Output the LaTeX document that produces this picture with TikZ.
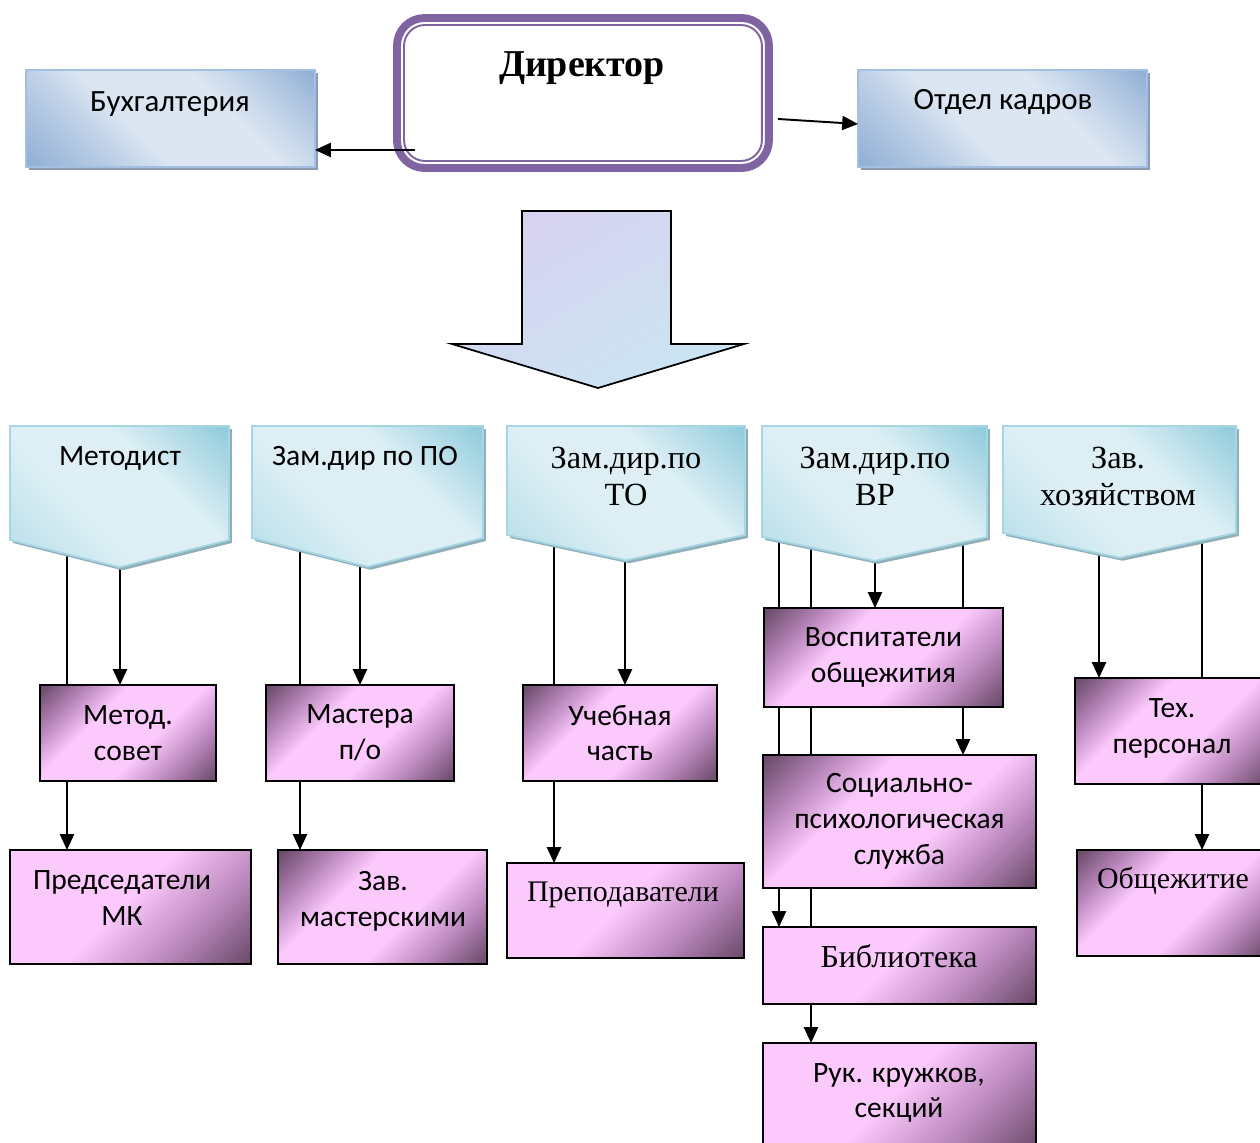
\documentclass[tikz,border=0pt]{standalone}
\usepackage{fontspec}
\setmainfont{Carlito}
\newfontfamily\tnr{Liberation Serif}
\usetikzlibrary{shapes.symbols,shadows,arrows.meta,backgrounds,calc}

\definecolor{bdark}{HTML}{93B1D6}
\definecolor{bmid}{HTML}{B8CCE5}
\definecolor{blight}{HTML}{DCE6F2}
\definecolor{bborder}{HTML}{A3C0E2}
\definecolor{bshadow}{HTML}{8D9BB0}
\definecolor{cdark}{HTML}{93CDDD}
\definecolor{cmid}{HTML}{B7DEE9}
\definecolor{clight}{HTML}{DDEFF5}
\definecolor{cborder}{HTML}{A6D6E3}
\definecolor{cshadow}{HTML}{8FAFB9}
\definecolor{pdark}{HTML}{6E4E6E}
\definecolor{pmid}{HTML}{B785B9}
\definecolor{plight}{HTML}{FBC9FC}
\definecolor{dirc}{HTML}{8064A2}
\definecolor{arwA}{HTML}{D8D2F0}
\definecolor{arwB}{HTML}{D2DCF3}
\definecolor{arwC}{HTML}{CAE5F2}

\pgfdeclarehorizontalshading{bluesh}{100bp}{color(0bp)=(bdark); color(16bp)=(bdark); color(30bp)=(bmid); color(42bp)=(blight); color(62bp)=(blight); color(74bp)=(bmid); color(84bp)=(bdark); color(100bp)=(bdark)}
\pgfdeclarehorizontalshading{cyansh}{100bp}{color(0bp)=(cmid); color(16bp)=(cmid); color(40bp)=(clight); color(62bp)=(clight); color(84bp)=(cdark); color(100bp)=(cdark)}
\pgfdeclarehorizontalshading{purpA}{100bp}{color(0bp)=(pdark); color(16bp)=(pdark); color(27bp)=(pmid); color(38bp)=(plight); color(58bp)=(plight); color(72bp)=(pmid); color(84bp)=(pdark); color(100bp)=(pdark)}
\pgfdeclarehorizontalshading{purpB}{100bp}{color(0bp)=(plight); color(48bp)=(plight); color(68bp)=(pmid); color(84bp)=(pdark); color(100bp)=(pdark)}

\tikzset{
  lab/.style={font=\fontsize{16.8}{20.4}\selectfont, align=center, inner sep=0},
  labtop/.style={font=\fontsize{17.6}{21}\selectfont, align=center, inner sep=0},
  labtnr/.style={font=\fontsize{18.4}{21}\selectfont\tnr, align=center, inner sep=0},
  labtnr2/.style={font=\fontsize{17}{20}\selectfont\tnr, align=center, inner sep=0},
  bluebox/.style={draw=bborder, line width=0.8pt, shade, shading=bluesh, shading angle=45,
    inner sep=0, outer sep=0, anchor=north west,
    drop shadow={fill=bshadow, opacity=1, shadow xshift=0.06cm, shadow yshift=-0.06cm}},
  dirbox/.style={draw=dirc, line width=4.5pt, rounded corners=0.55cm, fill=white,
    inner sep=0, outer sep=0, anchor=north west},
  penta/.style={signal, signal to=south, signal pointer angle=#1, draw=cborder, line width=1pt,
    shade, shading=cyansh, shading angle=45, inner sep=0, outer sep=0, anchor=north,
    drop shadow={fill=cshadow, opacity=1, shadow xshift=0.06cm, shadow yshift=-0.06cm}},
  penta/.default=152,
  pbox/.style={draw=black, line width=1pt, shade, shading=purpA, shading angle=-45,
    inner sep=2pt, outer sep=0, anchor=north west, lab},
  pbox2/.style={pbox, shading=purpB},
  bigarrow/.style={draw=black, line width=1pt, left color=arwA, middle color=arwB, right color=arwC, shading angle=30},
  arr/.style={-{Triangle[length=9pt,width=8pt]}, line width=1.1pt}
}

\begin{document}
\begin{tikzpicture}[x=0.02cm, y=-0.02cm]
\useasboundingbox (0,0) rectangle (1260,1142);
\clip (0,0) rectangle (1260,1142);

% top row
\node[bluebox, minimum width=5.78cm, minimum height=1.94cm] (buh) at (26,70) {};
\node[labtop, anchor=base] (buhT) at (170,112) {Бухгалтерия};
\node[bluebox, minimum width=5.78cm, minimum height=1.94cm] (kadr) at (858,70) {};
\node[labtop, anchor=base] (kadrT) at (1003,110) {Отдел кадров};

\node[dirbox, minimum width=7.44cm, minimum height=3cm] (dir) at (397,18) {};
\draw[dirc, line width=1.1pt, rounded corners=0.42cm] ([shift={(7,7)}]dir.north west) rectangle ([shift={(-7,-7)}]dir.south east);
\node[lab, font=\fontsize{21.6}{26}\selectfont\tnr\bfseries, anchor=base] (dirT) at (582,77) {Директор};

\draw[arr] ($(dir.south west)+(18,-18)$) coordinate (d1) -- (buh.east |- d1);
\draw[arr] ($(dir.east)+(9,26)$) -- ($(kadr.west)+(0,5.5)$);

% big arrow
\draw[bigarrow] (522,211) -- (671,211) -- (671,344) -- (744,344) -- (598,388) -- (452,344) -- (522,344) -- cycle;

% deputies
\node[penta, minimum width=4.38cm, minimum height=2.28cm] (met) at (119.5,426) {};
\node[penta, minimum width=4.62cm, minimum height=2.24cm] (zpo) at (367.5,426) {};
\node[penta=156, minimum width=4.76cm, minimum height=2.18cm] (zto) at (626,426) {};
\node[penta=156, minimum width=4.5cm, minimum height=2.22cm] (zvr) at (874.5,426) {};
\node[penta=156, minimum width=4.66cm, minimum height=2.14cm] (zxoz) at (1119.5,426) {};

\node[lab, anchor=base] (metT) at (120,465) {Методист};
\node[lab, anchor=base] (zpoT) at (365,465) {Зам.дир по ПО};
\node[labtnr] (ztoT) at (626,476) {Зам.дир.по\\ТО};
\node[labtnr] (zvrT) at (875,476) {Зам.дир.по\\ВР};
\node[labtnr] (zxozT) at (1118,476) {Зав.\\хозяйством};

% units
\node[pbox, minimum width=3.52cm, minimum height=1.92cm] (metsov) at (40,685) {Метод.\\совет};
\node[pbox2, minimum width=4.82cm, minimum height=2.28cm] (pred) at (10,850) {};
\node[lab] (predT) at (122,898) {Председатели\\МК};
\node[pbox, minimum width=3.76cm, minimum height=1.92cm] (mast) at (266,685) {Мастера\\п/о};
\node[pbox, minimum width=4.18cm, minimum height=2.28cm] (zavm) at (278,850) {};
\node[lab] (zavmT) at (383,901) {Зав.\\мастерскими};
\node[pbox, minimum width=3.88cm, minimum height=1.92cm] (ucheb) at (523,685) {Учебная\\часть};
\node[pbox2, minimum width=4.74cm, minimum height=1.9cm] (prep) at (507,863) {};
\node[labtnr2, anchor=base] (prepT) at (623,901) {Преподаватели};
\node[pbox, minimum width=4.78cm, minimum height=1.98cm] (vosp) at (764,608) {Воспитатели\\общежития};
\node[pbox, minimum width=5.46cm, minimum height=2.66cm] (soc) at (763,755) {Социально-\\психологическая\\служба};
\node[pbox2, minimum width=5.46cm, minimum height=1.54cm] (bibl) at (763,927) {};
\node[labtnr2, font=\fontsize{18.2}{21}\selectfont\tnr, anchor=base] (biblT) at (899,967) {Библиотека};
\node[pbox2, minimum width=5.46cm, minimum height=2.2cm] (ruk) at (763,1043) {};
\node[lab] (rukT) at (899,1093) {Рук. кружков,\\секций};
\node[pbox, minimum width=3.9cm, minimum height=2.12cm] (tex) at (1075,678) {};
\node[lab] (texT) at (1172,728) {Тех.\\персонал};
\node[pbox, minimum width=3.86cm, minimum height=2.12cm] (obsh) at (1077,850) {};
\node[labtnr2, anchor=base] (obshT) at (1173,888) {Общежитие};

% links, behind the boxes
\begin{scope}[on background layer]
\coordinate (c1) at (67,500);
\coordinate (c2) at (120,500);
\coordinate (c3) at (300,500);
\coordinate (c4) at (360,500);
\coordinate (c5) at (554,500);
\coordinate (c6) at (625,500);
\coordinate (c7) at (779,500);
\coordinate (c8) at (811,500);
\coordinate (c9) at (875,500);
\coordinate (c10) at (963,500);
\coordinate (c11) at (1099,500);
\coordinate (c12) at (1202,500);
\draw[arr] (c1) -- (c1 |- pred.north);
\draw[arr] (c2) -- (c2 |- metsov.north);
\draw[arr] (c3) -- (c3 |- zavm.north);
\draw[arr] (c4) -- (c4 |- mast.north);
\draw[arr] (c5) -- (c5 |- prep.north);
\draw[arr] (c6) -- (c6 |- ucheb.north);
\draw[arr] (c7) -- (c7 |- bibl.north);
\draw[arr] (c8) -- (c8 |- ruk.north);
\draw[arr] (c9) -- (c9 |- vosp.north);
\draw[arr] (c10) -- (c10 |- soc.north);
\draw[arr] (c11) -- (c11 |- tex.north);
\draw[arr] (c12) -- (c12 |- obsh.north);
\end{scope}
\end{tikzpicture}
\end{document}
